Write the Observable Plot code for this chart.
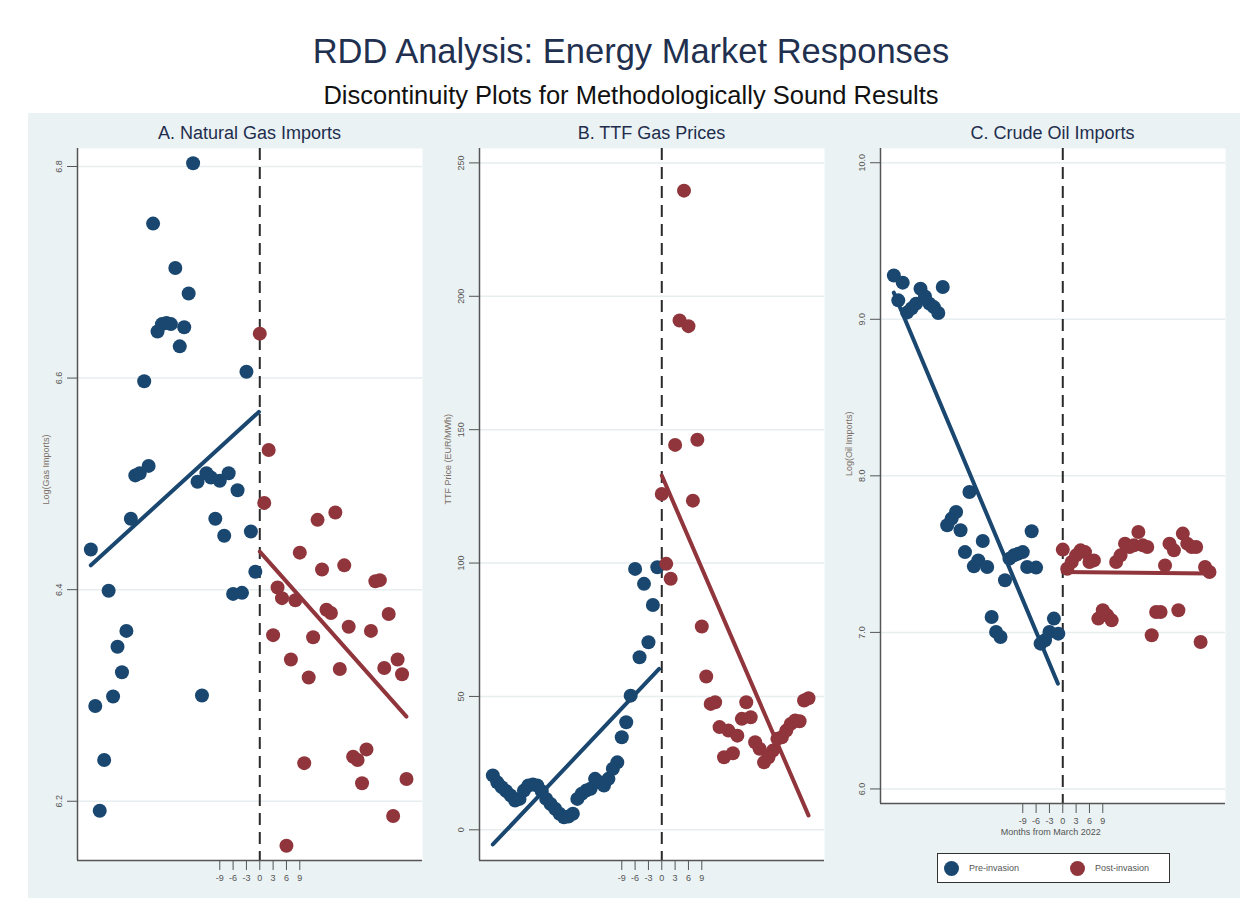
<!DOCTYPE html>
<html>
<head>
<meta charset="utf-8">
<script src="https://cdn.jsdelivr.net/npm/d3@7"></script>
<script src="https://cdn.jsdelivr.net/npm/@observablehq/plot@0.6"></script>
<style>
  body { margin: 0; background: #ffffff; font-family: "Liberation Sans", Arial, sans-serif; }
  #root { position: relative; width: 1248px; height: 911px; overflow: hidden; }
  #bg { position: absolute; left: 28px; top: 113px; width: 1212px; height: 785px; background: #eaf2f3; }
  .title { position: absolute; left: 0; width: 1262px; text-align: center; white-space: nowrap; }
  #t1 { top: 31px; font-size: 34.5px; line-height: 40px; color: #22304f; }
  #t2 { top: 80px; font-size: 25.5px; line-height: 30px; color: #111111; }
  .ptitle { position: absolute; width: 345px; text-align: center; top: 122px; font-size: 18px; line-height: 22px; color: #1e2d4d; white-space: nowrap; }
  .panel { position: absolute; top: 145px; }
  #legend { position: absolute; left: 937px; top: 853px; width: 231px; height: 28px; border: 1.5px solid #333; background: #ffffff; }
  .lg { position: absolute; top: 0; height: 28px; display: flex; align-items: center; font-size: 9px; color: #555; }
  .sw { display: inline-block; width: 15px; height: 15px; border-radius: 50%; margin-right: 10px; }
</style>
</head>
<body>
<div id="root">
  <div id="bg"></div>
  <div class="title" id="t1"></div>
  <div class="title" id="t2"></div>
  <div id="pt0" class="ptitle"></div>
  <div id="pt1" class="ptitle"></div>
  <div id="pt2" class="ptitle"></div>
  <div id="p0" class="panel"></div>
  <div id="p1" class="panel"></div>
  <div id="p2" class="panel"></div>
  <div id="legend"></div>
</div>
<script>
// ---------- texts ----------
const chartTitle = "RDD Analysis: Energy Market Responses";
const chartSubtitle = "Discontinuity Plots for Methodologically Sound Results";
const panelTitles = ["A. Natural Gas Imports", "B. TTF Gas Prices", "C. Crude Oil Imports"];
const yLabels = ["Log(Gas Imports)", "TTF Price (EUR/MWh)", "Log(Oil Imports)"];
const xLabel = "Months from March 2022";
const seriesNames = ["Pre-invasion", "Post-invasion"];
const seriesColors = ["#1a476f", "#90353b"];

// ---------- x values (months from March 2022) ----------
const monthsPre = [-38,-37,-36,-35,-34,-33,-32,-31,-30,-29,-28,-27,-26,-25,-24,-23,-22,-21,-20,-19,
                   -18,-17,-16,-15,-14,-13,-12,-11,-10,-9,-8,-7,-6,-5,-4,-3,-2,-1];
const monthsPost = [0,1,2,3,4,5,6,7,8,9,10,11,12,13,14,15,16,17,18,19,20,21,22,23,24,25,26,27,28,29,30,31,32,33];
const xTicks = [-9, -6, -3, 0, 3, 6, 9];
const xDomain = [-41, 36.6];

// ---------- A. Natural gas imports (log) ----------
const gasPre = [6.438, 6.290, 6.191, 6.239, 6.399, 6.299, 6.346, 6.322, 6.361, 6.467, 6.508, 6.510, 6.597,
                6.517, 6.746, 6.644, 6.651, 6.652, 6.651, 6.704, 6.630, 6.648, 6.680, 6.803, 6.502, 6.300,
                6.510, 6.506, 6.467, 6.503, 6.451, 6.510, 6.396, 6.494, 6.397, 6.606, 6.455, 6.417];
const gasPost = [6.642, 6.482, 6.532, 6.357, 6.402, 6.392, 6.158, 6.334, 6.390, 6.435, 6.236, 6.317, 6.355,
                 6.466, 6.419, 6.381, 6.378, 6.473, 6.325, 6.423, 6.365, 6.242, 6.239, 6.217, 6.249, 6.361,
                 6.408, 6.409, 6.326, 6.377, 6.186, 6.334, 6.320, 6.221];
const gasFitPreX = [-38, -0.2], gasFitPreY = [6.423, 6.568];
const gasFitPostX = [0, 33],    gasFitPostY = [6.436, 6.280];
const gasYTicks = [6.2, 6.4, 6.6, 6.8];
const gasYDomain = [6.144, 6.817];

// ---------- B. TTF gas prices (EUR/MWh) ----------
const ttfPre = [20.4, 17.8, 16.0, 14.5, 12.9, 11.0, 11.6, 14.7, 16.6, 17.0, 16.6, 14.5, 11.6, 9.7, 7.9, 6.0,
                4.7, 5.0, 6.0, 11.6, 13.5, 14.7, 15.4, 19.1, 17.8, 16.6, 19.1, 22.9, 25.3, 34.7, 40.3, 50.3,
                97.8, 64.7, 92.2, 70.3, 84.3, 98.4];
const ttfPost = [125.9, 99.7, 94.1, 144.3, 190.9, 239.6, 188.8, 123.4, 146.2, 76.2, 57.5, 47.2, 47.8, 38.5,
                 27.2, 37.2, 28.7, 35.3, 41.6, 47.8, 42.2, 32.8, 30.4, 25.3, 27.2, 29.7, 34.1, 34.7, 37.2,
                 39.7, 41.0, 40.7, 48.5, 49.3];
const ttfFitPreX = [-38, -0.6], ttfFitPreY = [-5.5, 60.3];
const ttfFitPostX = [0, 33],    ttfFitPostY = [132.8, 5.4];
const ttfYTicks = [0, 50, 100, 150, 200, 250];
const ttfYDomain = [-11.5, 255.4];

// ---------- C. Crude oil imports (log) ----------
const oilPre = [9.280, 9.121, 9.234, 9.044, 9.070, 9.100, 9.195, 9.146, 9.100, 9.078, 9.040, 9.206,
                7.684, 7.727, 7.769, 7.652, 7.513, 7.897, 7.422, 7.460, 7.584, 7.418, 7.098, 7.003, 6.971,
                7.333, 7.471, 7.492, 7.503, 7.513, 7.418, 7.646, 7.414, 6.928, 6.950, 7.003, 7.088, 6.992];
const oilPost = [7.529, 7.407, 7.450, 7.492, 7.524, 7.513, 7.450, 7.460, 7.088, 7.141, 7.109, 7.077, 7.450,
                 7.492, 7.567, 7.545, 7.556, 7.641, 7.556, 7.545, 6.982, 7.130, 7.130, 7.428, 7.567, 7.524,
                 7.141, 7.631, 7.567, 7.545, 7.545, 6.939, 7.418, 7.386];
const oilFitPreX = [-38, -1.1], oilFitPreY = [9.17, 6.673];
const oilFitPostX = [0, 33],    oilFitPostY = [7.386, 7.376];
const oilYTicks = [6, 7, 8, 9, 10];
const oilYDomain = [5.907, 10.091];

// ---------- build ----------
document.getElementById("t1").textContent = chartTitle;
document.getElementById("t2").textContent = chartSubtitle;

const zip = (xs, ys) => xs.map((m, i) => ({m, v: ys[i]}));
const font = "'Liberation Sans', Arial, sans-serif";

function panel(cfg) {
  const marks = [
    Plot.frame({fill: "#ffffff", stroke: null}),
    Plot.gridY(cfg.yTicks, {stroke: "#e6eef0", strokeOpacity: 1, strokeWidth: 1.5}),
    Plot.ruleX([0], {stroke: "#2a2a2a", strokeWidth: 2, strokeDasharray: "12,7"}),
    Plot.dot(zip(monthsPre, cfg.pre), {x: "m", y: "v", r: 7, fill: seriesColors[0], stroke: null}),
    Plot.dot(zip(monthsPost, cfg.post), {x: "m", y: "v", r: 7, fill: seriesColors[1], stroke: null}),
    Plot.line(zip(cfg.fitPreX, cfg.fitPreY), {x: "m", y: "v", stroke: seriesColors[0], strokeWidth: 4}),
    Plot.line(zip(cfg.fitPostX, cfg.fitPostY), {x: "m", y: "v", stroke: seriesColors[1], strokeWidth: 4}),
    Plot.ruleX([xDomain[0]], {stroke: "#555", strokeWidth: 1.5}),
    Plot.ruleY([cfg.yDomain[0]], {stroke: "#555", strokeWidth: 1.5}),
    Plot.axisY(cfg.yTicks, {anchor: "left", tickSize: 10, tickPadding: 6, tickRotate: -90,
      tickFormat: cfg.fmt, fontSize: 9, color: "#555", label: null}),
    Plot.axisX(xTicks, {anchor: "bottom", tickSize: 10, tickPadding: 4, fontSize: 9, color: "#555", label: null,
      tickFormat: d => `${d}`}),
    Plot.text([cfg.ylabel], {frameAnchor: "left", rotate: -90, dx: -31, fontSize: 9, fill: "#7a6e66"})
  ];
  if (cfg.xlabel) {
    marks.push(Plot.text([cfg.xlabel], {x: () => 0, frameAnchor: "bottom", dy: 31, dx: -12, fontSize: 9, fill: "#555"}));
  }
  return Plot.plot({
    width: 395, height: cfg.height,
    marginLeft: 47, marginRight: 3, marginTop: 3, marginBottom: cfg.mb,
    style: {background: "transparent", overflow: "visible", fontFamily: font},
    x: {domain: xDomain, axis: null},
    y: {domain: cfg.yDomain, axis: null},
    marks
  });
}

const cfgs = [
  {pre: gasPre, post: gasPost, fitPreX: gasFitPreX, fitPreY: gasFitPreY, fitPostX: gasFitPostX, fitPostY: gasFitPostY,
   yTicks: gasYTicks, yDomain: gasYDomain, fmt: d => d.toFixed(1), ylabel: yLabels[0], height: 753, mb: 38, left: 30},
  {pre: ttfPre, post: ttfPost, fitPreX: ttfFitPreX, fitPreY: ttfFitPreY, fitPostX: ttfFitPostX, fitPostY: ttfFitPostY,
   yTicks: ttfYTicks, yDomain: ttfYDomain, fmt: d => `${d}`, ylabel: yLabels[1], height: 753, mb: 38, left: 432},
  {pre: oilPre, post: oilPost, fitPreX: oilFitPreX, fitPreY: oilFitPreY, fitPostX: oilFitPostX, fitPostY: oilFitPostY,
   yTicks: oilYTicks, yDomain: oilYDomain, fmt: d => d.toFixed(1), ylabel: yLabels[2], height: 698, mb: 40, left: 833,
   xlabel: xLabel}
];

cfgs.forEach((c, i) => {
  const host = document.getElementById("p" + i);
  host.style.left = c.left + "px";
  host.appendChild(panel(c));
  const pt = document.getElementById("pt" + i);
  pt.style.left = (c.left + 47) + "px";
  pt.textContent = panelTitles[i];
});

const lg = document.getElementById("legend");
seriesNames.forEach((name, i) => {
  const item = document.createElement("div");
  item.className = "lg";
  item.style.left = (i === 0 ? 6 : 132) + "px";
  const sw = document.createElement("span");
  sw.className = "sw";
  sw.style.background = seriesColors[i];
  item.appendChild(sw);
  item.appendChild(document.createTextNode(name));
  lg.appendChild(item);
});
</script>
</body>
</html>
